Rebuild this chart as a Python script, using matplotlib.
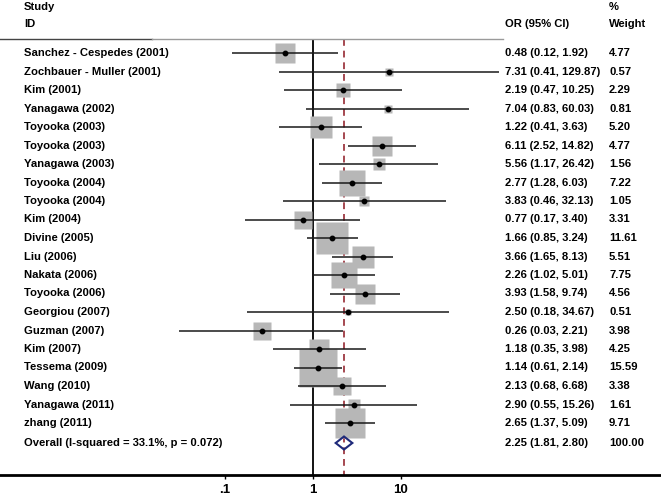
import numpy as np
import matplotlib
matplotlib.use("Agg")
import matplotlib.pyplot as plt
from matplotlib.patches import Polygon

studies = ["Sanchez - Cespedes (2001)", "Zochbauer - Muller (2001)", "Kim (2001)",
           "Yanagawa (2002)", "Toyooka (2003)", "Toyooka (2003)", "Yanagawa (2003)",
           "Toyooka (2004)", "Toyooka (2004)", "Kim (2004)", "Divine (2005)", "Liu (2006)",
           "Nakata (2006)", "Toyooka (2006)", "Georgiou (2007)", "Guzman (2007)",
           "Kim (2007)", "Tessema (2009)", "Wang (2010)", "Yanagawa (2011)", "zhang (2011)"]
or_vals = [0.48, 7.31, 2.19, 7.04, 1.22, 6.11, 5.56, 2.77, 3.83, 0.77, 1.66, 3.66,
           2.26, 3.93, 2.50, 0.26, 1.18, 1.14, 2.13, 2.90, 2.65]
ci_low = [0.12, 0.41, 0.47, 0.83, 0.41, 2.52, 1.17, 1.28, 0.46, 0.17, 0.85, 1.65,
          1.02, 1.58, 0.18, 0.03, 0.35, 0.61, 0.68, 0.55, 1.37]
ci_high = [1.92, 129.87, 10.25, 60.03, 3.63, 14.82, 26.42, 6.03, 32.13, 3.40, 3.24, 8.13,
           5.01, 9.74, 34.67, 2.21, 3.98, 2.14, 6.68, 15.26, 5.09]
weights = [4.77, 0.57, 2.29, 0.81, 5.20, 4.77, 1.56, 7.22, 1.05, 3.31, 11.61, 5.51,
           7.75, 4.56, 0.51, 3.98, 4.25, 15.59, 3.38, 1.61, 9.71]

overall_label = "Overall (I-squared = 33.1%, p = 0.072)"
overall_or, overall_lo, overall_hi, overall_w = 2.25, 1.81, 2.80, 100.00

tick_vals = [0.1, 1, 10]
tick_labels = [".1", "1", "10"]

plt.rcParams['font.family'] = ['Liberation Sans', 'DejaVu Sans']
FS = 8.1

W, H = 661, 497
fig = plt.figure(figsize=(W / 100, H / 100), dpi=100)

# axes: full width, bottom edge is the x axis line
bottom_px = 475
ax = fig.add_axes([0, (H - bottom_px) / H, 1, bottom_px / H])
ax.set_xscale('log')
one_px, decade_px = 313, 88.0
ax.set_xlim(10 ** (-one_px / decade_px), 10 ** ((W - one_px) / decade_px))
row0, step = 53, 18.5
ax.set_ylim((bottom_px - row0) / step, -row0 / step)

for s in ['top', 'left', 'right']:
    ax.spines[s].set_visible(False)
ax.spines['bottom'].set_linewidth(2)
ax.set_yticks([])
ax.set_xticks(tick_vals)
ax.set_xticklabels(tick_labels, fontweight='bold', fontsize=9.5)
ax.minorticks_off()
ax.tick_params(axis='x', direction='out', length=3, width=1, pad=3.5)

top_y = (39 - row0) / step
y_bot = (bottom_px - row0) / step
n = len(studies)
ys = np.arange(n)
y_over = (443 - row0) / step

# header line
ax.axhline(top_y, xmin=0, xmax=152 / W, color='#444444', lw=1)
ax.axhline(top_y, xmin=152 / W, xmax=503 / W, color='#9a9a9a', lw=1)

# reference lines
ax.vlines(1, top_y, y_bot, color='black', lw=1.3, zorder=1)
ax.vlines(overall_or, top_y, y_bot, color='#a54850', lw=1.4,
          linestyles=(0, (3.5, 2.5)), zorder=1)

# weight squares
for y, o, w in zip(ys, or_vals, weights):
    side = 9.4 * np.sqrt(w) * 0.72
    ax.plot(o, y, marker='s', ms=side, color='#b7b7b7', mec='none', zorder=2)

# confidence intervals and point estimates
ax.hlines(ys, ci_low, ci_high, color='#1a1a1a', lw=1.1, zorder=3)
ax.plot(or_vals, ys, 'o', color='black', ms=3.2, zorder=4)

# overall diamond
h = 6.5 / step
diamond = Polygon([(overall_lo, y_over), (overall_or, y_over - h),
                   (overall_hi, y_over), (overall_or, y_over + h)],
                  closed=True, fill=False, edgecolor='#1f2a7a', lw=1.5, zorder=4)
ax.add_patch(diamond)

# text columns
tx = ax.get_yaxis_transform()
x_name, x_or, x_w = 24 / W, 505 / W, 609 / W
tkw = dict(transform=tx, fontsize=FS, fontweight='bold', va='center', ha='left')
ax.text(x_name, (7 - row0) / step, "Study", **tkw)
ax.text(x_name, (24 - row0) / step, "ID", **tkw)
ax.text(x_or, (24 - row0) / step, "OR (95% CI)", **tkw)
ax.text(x_w, (7 - row0) / step, "%", **tkw)
ax.text(x_w, (24 - row0) / step, "Weight", **tkw)

for y, name, o, lo, hi, w in zip(ys, studies, or_vals, ci_low, ci_high, weights):
    ax.text(x_name, y, name, **tkw)
    ax.text(x_or, y, f"{o:.2f} ({lo:.2f}, {hi:.2f})", **tkw)
    ax.text(x_w, y, f"{w:.2f}", **tkw)

ax.text(x_name, y_over, overall_label, **tkw)
ax.text(x_or, y_over, f"{overall_or:.2f} ({overall_lo:.2f}, {overall_hi:.2f})", **tkw)
ax.text(x_w, y_over, f"{overall_w:.2f}", **tkw)

fig.savefig("out.png", dpi=100)
